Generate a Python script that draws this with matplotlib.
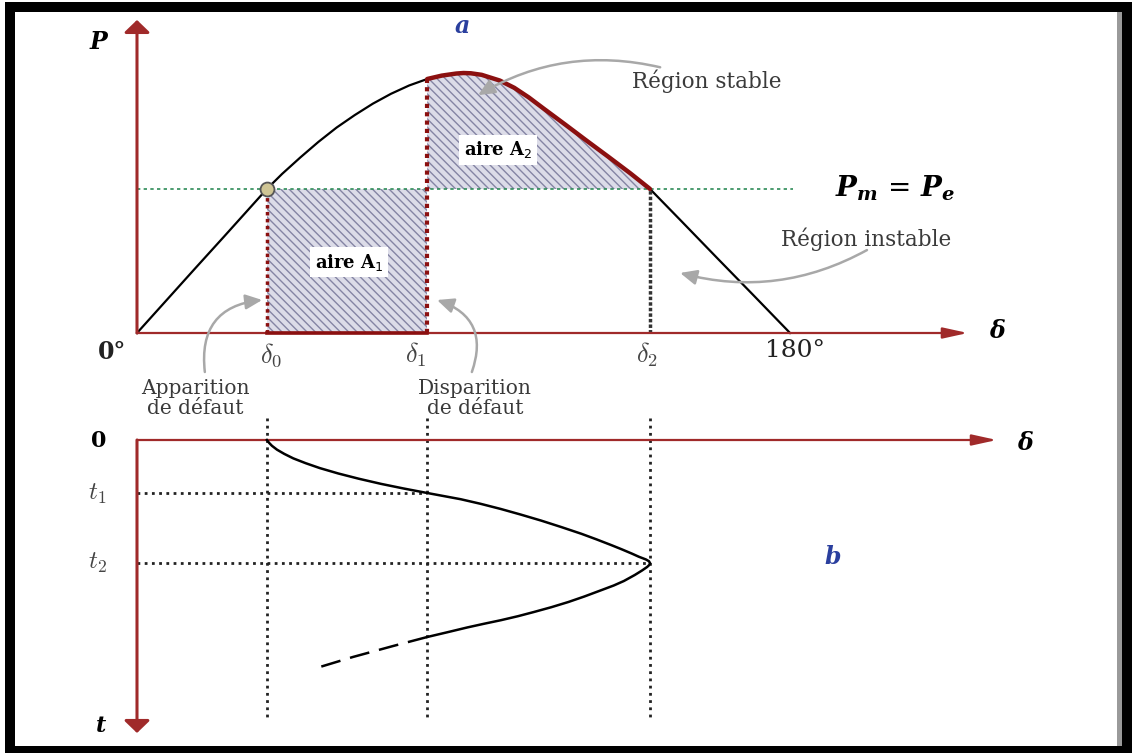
import numpy as np
import matplotlib
matplotlib.use("Agg")
import matplotlib.pyplot as plt
from matplotlib.patches import Rectangle

# courbe P(delta) : angle en degres, puissance rapportee a Pmax
delta_pe = [0, 8, 16, 24, 30, 35.8, 40, 45, 50, 55, 60, 65, 70, 75, 80, 84, 88, 90,
            92, 95, 100, 104, 108, 112, 118, 124, 130, 136, 141.4, 150, 160, 170, 180]
p_e = [0, 0.124, 0.248, 0.371, 0.464, 0.554, 0.612, 0.675, 0.735, 0.79, 0.838, 0.882,
       0.92, 0.952, 0.977, 0.99, 0.998, 1.0,
       0.999, 0.993, 0.971, 0.943, 0.906, 0.864, 0.802, 0.739, 0.677, 0.614, 0.554,
       0.431, 0.287, 0.144, 0]
p_m = 0.554
delta_0, delta_1, delta_2 = 35.8, 80.0, 141.4

# evolution de l'angle au cours du temps (t croissant vers le bas)
# pendant le defaut : de delta_0 a delta_1
t_defaut = [0, 0.028, 0.058, 0.097, 0.139, 0.184, 0.232, 0.281, 0.335, 0.387, 0.439, 0.485, 0.53]
delta_defaut = [35.8, 36.4, 37.2, 38.6, 40.6, 43.1, 46.5, 50.4, 55.5, 61.1, 67.3, 73.5, 80.0]
# apres elimination : montee jusqu'a delta_2 puis retour
t_apres = [0.53, 0.592, 0.638, 0.69, 0.746, 0.806, 0.87, 0.938, 0.993, 1.052, 1.093, 1.136,
           1.167, 1.195, 1.212, 1.23,
           1.25, 1.27, 1.305, 1.35, 1.41, 1.455, 1.50, 1.565, 1.62, 1.672, 1.72, 1.762,
           1.802, 1.838, 1.874, 1.922, 1.97]
delta_apres = [80.0, 89.2, 94.7, 100.3, 105.8, 111.4, 116.9, 122.5, 126.6, 130.8, 133.6, 136.4,
               138.3, 140.3, 141.1, 141.4,
               141.2, 140.6, 139.2, 137.2, 134.2, 131.4, 128.1, 123.3, 118.9, 114.2, 109.4, 105.0,
               100.3, 95.6, 91.1, 85.6, 80.0]
# suite supposee (en tirets)
delta_suite = [80.0, 70.6, 59.5, 50.4]
t_suite = [1.97, 2.06, 2.17, 2.27]
t_1, t_2 = 0.53, 1.23

ROUGE = "#a02a2a"
ROUGE_F = "#8b1010"
GRIS = "#a8a8a8"
TXT = "#3a3a3a"
SERIF = "DejaVu Serif"

fig = plt.figure(figsize=(11.35, 7.53), dpi=100)

# --- partie a : critere des aires ---
ax = fig.add_axes([0, 0, 1, 1])
ax.set_xlim(-37.76, 275.08)
ax.set_ylim(-1.6154, 1.2808)
ax.axis("off")

d = np.array(delta_pe)
p = np.array(p_e)
m = (d >= delta_1) & (d <= delta_2)

hatch_kw = dict(facecolor="#dcdce8", edgecolor="#8484a4", hatch="\\\\\\\\", lw=0, zorder=1)
ax.fill_between([delta_0, delta_1], 0, p_m, **hatch_kw)
ax.fill_between(d[m], p_m, p[m], **hatch_kw)

ax.plot([0, 180.8], [p_m, p_m], color="#2e8b57", lw=1.2, ls=(0, (2, 2)), zorder=2)
ax.plot(delta_pe, p_e, color="black", lw=1.6, zorder=3)
ax.plot(d[m], p[m], color=ROUGE_F, lw=3.2, zorder=4, solid_capstyle="round")

p_d1 = p_e[delta_pe.index(delta_1)]
ax.plot([delta_0, delta_0], [0, p_m], color=ROUGE_F, lw=2.5, ls=(0, (1, 1)), zorder=4)
ax.plot([delta_1, delta_1], [0, p_d1], color=ROUGE_F, lw=3, ls=(0, (1, 1)), zorder=4)
ax.plot([delta_2, delta_2], [0, p_m], color="#333333", lw=2.5, ls=(0, (1, 0.6)), zorder=4)
ax.plot([delta_0, delta_1], [0, 0], color=ROUGE_F, lw=2.6, zorder=5)

# axes fleches
ax.annotate("", xy=(229.0, 0), xytext=(0, 0), zorder=4,
            arrowprops=dict(arrowstyle="-|>,head_length=15,head_width=3.3", mutation_scale=1,
                            color=ROUGE, lw=1.6, shrinkA=0, shrinkB=0))
ax.annotate("", xy=(0, 1.204), xytext=(0, 0), zorder=4,
            arrowprops=dict(arrowstyle="-|>,head_length=7.5,head_width=7.8", mutation_scale=1,
                            color=ROUGE, lw=2.2, shrinkA=0, shrinkB=0))

ax.plot(delta_0, p_m, "o", ms=10, mfc="#cfc594", mec="#555555", mew=1.3, zorder=6)


# fleches grises des commentaires
def fleche(a, xy, xytext, rad):
    a.annotate("", xy=xy, xytext=xytext, zorder=7,
               arrowprops=dict(arrowstyle="-|>,head_length=10,head_width=4.5", mutation_scale=1,
                               color=GRIS, lw=1.8, shrinkA=0, shrinkB=0,
                               connectionstyle=f"arc3,rad={rad}"))


fleche(ax, (34.5, 0.127), (18.7, -0.15), -0.5)
fleche(ax, (82.7, 0.127), (92.3, -0.15), 0.5)
fleche(ax, (94.0, 0.915), (144.2, 1.022), 0.2)
fleche(ax, (149.7, 0.231), (201.2, 0.319), -0.2)

# textes
box = dict(boxstyle="square,pad=0.25", fc="white", ec="none")
ax.text((delta_0 + delta_1) / 2 + 0.6, 0.273, "aire A$_1$", family=SERIF, weight="bold",
        fontsize=13, ha="center", va="center", bbox=box, zorder=8)
ax.text(delta_1 + 19.5, 0.705, "aire A$_2$", family=SERIF, weight="bold", fontsize=13,
        ha="center", va="center", bbox=box, zorder=8)

ax.text(-10.75, 1.12, "P", family=SERIF, weight="bold", style="italic", fontsize=17,
        ha="center", va="center")
ax.text(89.6, 1.18, "a", family=SERIF, weight="bold", style="italic", fontsize=17,
        color="#2a3f9e", ha="center", va="center")
ax.text(157.1, 0.969, "Région stable", family=SERIF, fontsize=15.5, color=TXT,
        ha="center", va="center")
ax.text(200.9, 0.3615, "Région instable", family=SERIF, fontsize=15.5, color=TXT,
        ha="center", va="center")
ax.text(208.9, 0.558, r"$\mathbfit{P}_{\mathbfit{m}}\, =\, \mathbfit{P}_{\mathbfit{e}}$",
        math_fontfamily="dejavuserif", fontsize=20, ha="center", va="center")
ax.text(-6.9, -0.073, "0°", family=SERIF, weight="bold", fontsize=17, color="#222222",
        ha="center", va="center")
ax.text(181.4, -0.069, "180°", family=SERIF, fontsize=18, color="#222222",
        ha="center", va="center")
for dv, lab, dx in [(delta_0, r"$\delta_0$", 1.1), (delta_1, r"$\delta_1$", -3.3),
                    (delta_2, r"$\delta_2$", -0.8)]:
    ax.text(dv + dx, -0.085, lab, math_fontfamily="cm", fontsize=19, color="#444444",
            ha="center", va="center")
ax.text(237.0, 0.008, "δ", family=SERIF, weight="bold", style="italic", fontsize=17,
        ha="center", va="center")
ax.text(16.1, -0.177, "Apparition\nde défaut", family=SERIF, fontsize=14.5, color=TXT,
        ha="center", va="top", linespacing=1.05)
ax.text(93.2, -0.177, "Disparition\nde défaut", family=SERIF, fontsize=14.5, color=TXT,
        ha="center", va="top", linespacing=1.05)

# --- partie b : delta(t) ---
bx = fig.add_axes([0, 0, 1, 1])
bx.set_xlim(-37.76, 275.08)
bx.set_ylim(3.13, -4.40)
bx.axis("off")
bx.patch.set_alpha(0)

for dv in (delta_0, delta_1, delta_2):
    bx.plot([dv, dv], [-0.22, 2.8], color="#222222", lw=2, ls=(0, (1, 1.6)))
bx.plot([0, delta_1], [t_1, t_1], color="#222222", lw=2, ls=(0, (1, 1.6)))
bx.plot([0, delta_2], [t_2, t_2], color="#222222", lw=2, ls=(0, (1, 1.6)))

bx.annotate("", xy=(237.0, 0), xytext=(0, 0), zorder=4,
            arrowprops=dict(arrowstyle="-|>,head_length=15,head_width=3.3", mutation_scale=1,
                            color=ROUGE, lw=1.6, shrinkA=0, shrinkB=0))
bx.annotate("", xy=(0, 2.93), xytext=(0, 0), zorder=4,
            arrowprops=dict(arrowstyle="-|>,head_length=7.5,head_width=7.8", mutation_scale=1,
                            color=ROUGE, lw=2.2, shrinkA=0, shrinkB=0))

bx.plot(delta_defaut + delta_apres[1:], t_defaut + t_apres[1:], color="black", lw=1.8,
        zorder=5, solid_joinstyle="round")
bx.plot(delta_suite, t_suite, color="black", lw=1.8, ls=(0, (8, 4)), zorder=5)

bx.text(-10.5, 0.01, "0", family=SERIF, weight="bold", fontsize=16, ha="center", va="center")
bx.text(-11.0, t_1 + 0.01, r"$t_1$", math_fontfamily="cm", fontsize=18, color="#444444",
        ha="center", va="center")
bx.text(-11.0, t_2, r"$t_2$", math_fontfamily="cm", fontsize=18, color="#444444",
        ha="center", va="center")
bx.text(-10.0, 2.86, "t", family=SERIF, weight="bold", style="italic", fontsize=16,
        ha="center", va="center")
bx.text(244.8, 0.03, "δ", family=SERIF, weight="bold", style="italic", fontsize=17,
        ha="center", va="center")
bx.text(191.8, 1.17, "b", family=SERIF, weight="bold", style="italic", fontsize=17,
        color="#2a3f9e", ha="center", va="center")

# cadre noir
W, H = 1135, 753
fig.patches.append(Rectangle((10 / W, 1 - 751 / H), 1117 / W, 744 / H, transform=fig.transFigure,
                             fill=False, ec="black", lw=7.2, zorder=10))
fig.patches.append(Rectangle((1117 / W, 0), 5 / W, 1 - 11 / H, transform=fig.transFigure,
                             fc="#9a9a9a", ec="none", zorder=9))

fig.savefig("out.png", dpi=100)
